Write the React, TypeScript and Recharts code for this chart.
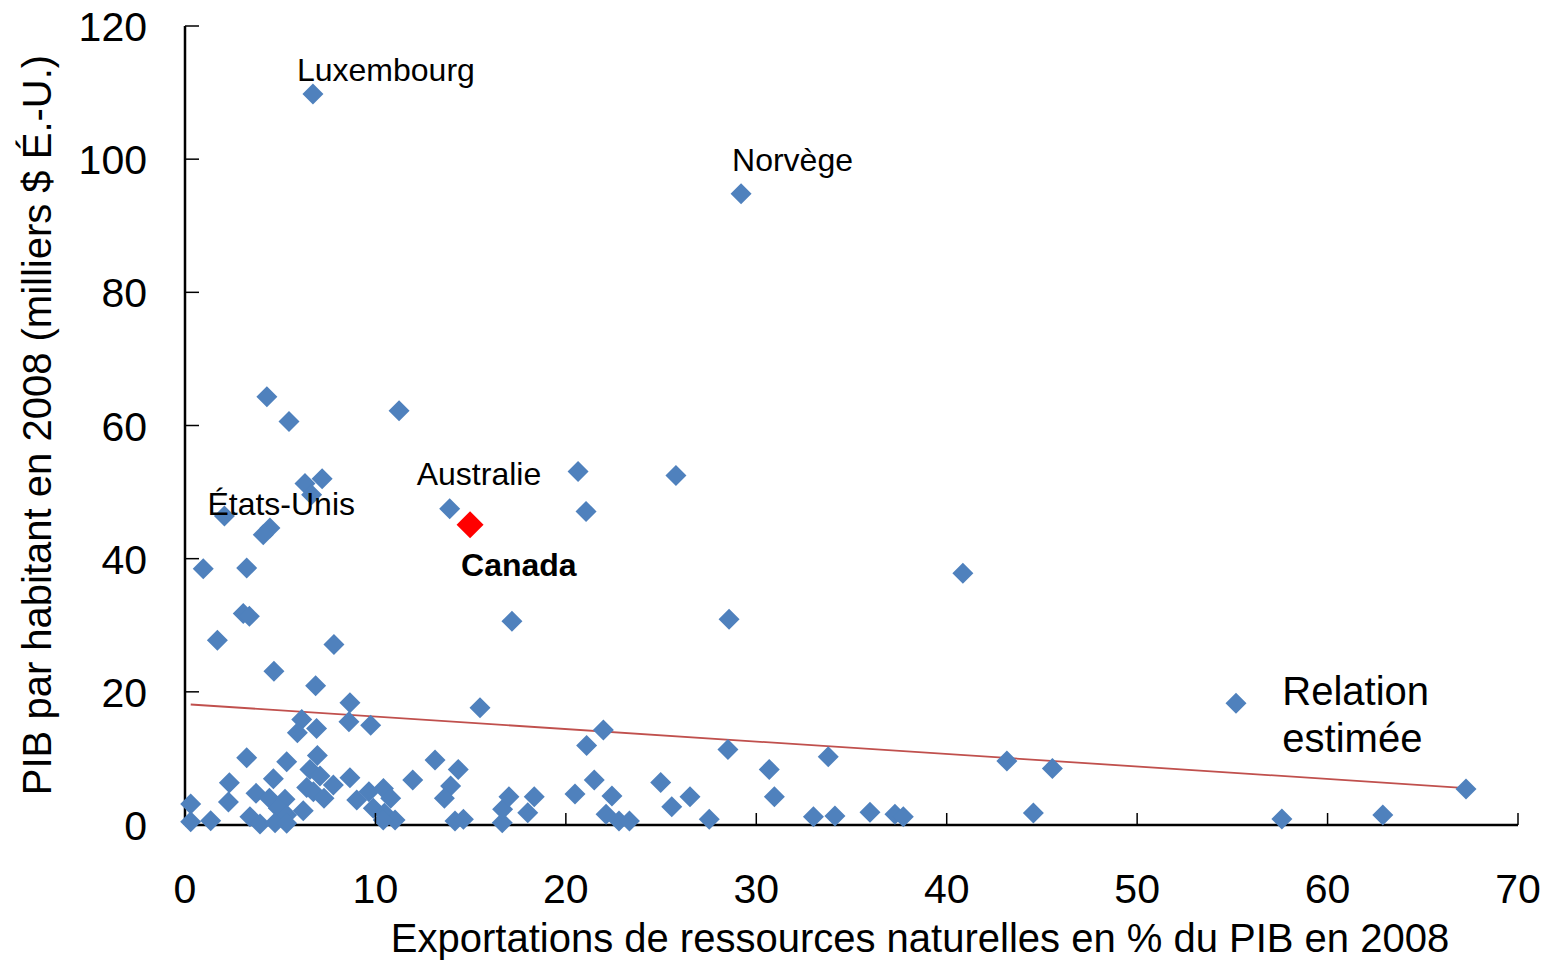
import React from 'react';
import { ScatterChart, Scatter, XAxis, YAxis, ReferenceLine, ReferenceDot, Label } from 'recharts';

// Exportations de ressources naturelles (% du PIB, 2008)
const countryX = [
  6.72, 29.2, 13.9, 2.07, 4.3, 5.46, 11.24, 6.3, 7.2, 6.65,
  4.46, 4.11, 0.96, 3.24, 3.06, 3.38, 1.7, 7.82, 4.67, 6.86,
  20.64, 25.78, 21.06, 40.85, 17.17, 28.57, 15.49, 55.19, 67.27, 62.9,
  57.6, 43.16, 45.55, 44.55, 24.98, 25.56, 26.52, 27.53, 28.51, 30.68,
  30.95, 33.0, 34.13, 33.78, 35.97, 37.28, 37.72, 11.96, 13.13, 14.35,
  13.95, 13.62, 14.18, 14.62, 16.66, 16.68, 17.01, 18.0, 18.34, 20.48,
  21.09, 21.97, 21.49, 22.42, 22.11, 22.79, 23.34, 8.66, 6.13, 6.91,
  5.9, 8.61, 9.75, 3.24, 5.34, 6.95, 6.56, 7.09, 4.64, 2.33,
  8.66, 7.79, 6.39, 6.74, 3.73, 4.43, 5.25, 7.3, 2.28, 0.3,
  4.9, 6.21, 3.41, 5.34, 3.94, 0.3, 1.35, 4.73, 5.34, 9.02,
  9.66, 10.42, 10.8, 9.89, 10.47, 11.03, 10.41,
];
// PIB par habitant 2008 (milliers $ É.-U.)
const countryY = [
  109.8, 94.8, 47.5, 46.4, 64.3, 60.6, 62.2, 51.3, 52.0, 49.6,
  44.6, 43.6, 38.5, 38.6, 31.75, 31.35, 27.75, 27.1, 23.1, 20.9,
  53.1, 52.5, 47.1, 37.8, 30.6, 30.9, 17.6, 18.3, 5.4, 1.5,
  0.9, 9.6, 8.5, 1.8, 6.4, 2.75, 4.25, 0.85, 11.35, 8.35,
  4.25, 1.25, 1.35, 10.25, 1.9, 1.6, 1.25, 6.75, 9.75, 8.35,
  5.85, 4.0, 0.6, 0.85, 0.35, 2.35, 4.25, 1.85, 4.25, 4.65,
  11.95, 14.25, 6.75, 4.35, 1.6, 0.6, 0.6, 18.35, 15.85, 14.5,
  13.85, 15.5, 15.0, 10.1, 9.5, 10.45, 8.35, 7.35, 6.95, 6.35,
  7.1, 6.0, 5.65, 5.0, 4.75, 4.0, 3.85, 4.0, 3.45, 3.15,
  2.5, 2.15, 1.25, 1.5, 0.15, 0.5, 0.65, 0.35, 0.25, 3.75,
  5.0, 5.5, 4.0, 2.5, 1.75, 0.75, 0.75,
];

const canadaX = [14.97];
const canadaY = [45.1];

// Estimated relation (end points of the fitted line)
const trendX = [0.3, 67.27];
const trendY = [18.1, 5.55];

const xTicks = [0, 10, 20, 30, 40, 50, 60, 70];
const yTicks = [0, 20, 40, 60, 80, 100, 120];

const labelNames = ['Luxembourg', 'Norvège', 'Australie', 'États-Unis'];
const labelX = [6.72, 29.2, 13.9, 2.07];
const labelY = [109.8, 94.8, 47.5, 46.4];
const labelDx = [-16, -9, -33, -17];
const labelDy = [-13, -23, -24, -1];

const trendLabelLines = ['Relation', 'estimée'];
const trendLabelX = 57.1;
const trendLabelY = 18.2;

const xTitle = 'Exportations de ressources naturelles en % du PIB en 2008';
const yTitle = 'PIB par habitant en 2008 (milliers $ É.-U.)';

const FONT = '"Liberation Sans", Arial, Helvetica, sans-serif';
const BLUE = '#4F81BD';

const points = countryX.map((x, i) => ({ x, y: countryY[i] }));
const canada = canadaX.map((x, i) => ({ x, y: canadaY[i] }));

const diamondPath = (cx: number, cy: number, r: number) =>
  `M${cx},${cy - r}L${cx + r},${cy}L${cx},${cy + r}L${cx - r},${cy}Z`;

const XTick = (props: any) => {
  const { x, y, payload } = props;
  return (
    <g>
      {payload.value !== 0 && (
        <line x1={x} y1={y} x2={x} y2={y - 12} stroke="#000" strokeWidth={1.5} />
      )}
      <text x={x} y={y + 78} textAnchor="middle" fontSize={41} fontFamily={FONT} fill="#000">
        {payload.value}
      </text>
    </g>
  );
};

const YTick = (props: any) => {
  const { x, y, payload } = props;
  return (
    <g>
      {payload.value !== 0 && (
        <line x1={x} y1={y} x2={x + 14} y2={y} stroke="#000" strokeWidth={1.5} />
      )}
      <text x={x - 38} y={y + 15} textAnchor="end" fontSize={41} fontFamily={FONT} fill="#000">
        {payload.value}
      </text>
    </g>
  );
};

export default function App() {
  return (
    <div style={{ position: 'absolute', left: 0, top: 0, background: '#fff' }}>
      <ScatterChart width={1549} height={961} margin={{ top: 26, right: 31, bottom: 56, left: 0 }}>
        <XAxis
          type="number"
          dataKey="x"
          domain={[0, 70]}
          ticks={xTicks}
          interval={0}
          height={80}
          tickSize={0}
          tickMargin={0}
          tickLine={false}
          axisLine={{ stroke: '#000', strokeWidth: 2.5 }}
          tick={(p: any) => <XTick {...p} />}
        >
          <Label
            content={() => (
              <text x={920} y={952} textAnchor="middle" fontSize={40} fontFamily={FONT} fill="#000">
                {xTitle}
              </text>
            )}
          />
        </XAxis>
        <YAxis
          type="number"
          dataKey="y"
          domain={[0, 120]}
          ticks={yTicks}
          interval={0}
          width={185}
          tickSize={0}
          tickMargin={0}
          tickLine={false}
          axisLine={{ stroke: '#000', strokeWidth: 2.5 }}
          tick={(p: any) => <YTick {...p} />}
        >
          <Label
            content={() => (
              <text
                x={51}
                y={425}
                transform="rotate(-90 51 425)"
                textAnchor="middle"
                fontSize={40}
                fontFamily={FONT}
                fill="#000"
              >
                {yTitle}
              </text>
            )}
          />
        </YAxis>
        <Scatter
          data={points}
          isAnimationActive={false}
          shape={(p: any) => <path d={diamondPath(p.cx, p.cy, 10.5)} fill={BLUE} />}
        />
        <Scatter
          data={canada}
          isAnimationActive={false}
          shape={(p: any) => <path d={diamondPath(p.cx, p.cy, 13.5)} fill="#FF0000" />}
        />
        <ReferenceLine
          segment={[
            { x: trendX[0], y: trendY[0] },
            { x: trendX[1], y: trendY[1] },
          ]}
          stroke="#C0504D"
          strokeWidth={1.8}
        />
        {labelNames.map((name, i) => (
          <ReferenceDot
            key={name}
            x={labelX[i]}
            y={labelY[i]}
            r={0}
            fill="none"
            stroke="none"
            label={{
              content: (lp: any) => {
                const vb = lp.viewBox || {};
                return (
                  <text
                    x={vb.x + labelDx[i]}
                    y={vb.y + labelDy[i]}
                    fontSize={32}
                    fontFamily={FONT}
                    fill="#000"
                  >
                    {name}
                  </text>
                );
              },
            }}
          />
        ))}
        <ReferenceDot
          x={canadaX[0]}
          y={canadaY[0]}
          r={0}
          fill="none"
          stroke="none"
          label={{
            content: (lp: any) => {
              const vb = lp.viewBox || {};
              return (
                <text x={vb.x - 9} y={vb.y + 51} fontSize={32} fontWeight="bold" fontFamily={FONT} fill="#000">
                  Canada
                </text>
              );
            },
          }}
        />
        <ReferenceDot
          x={trendLabelX}
          y={trendLabelY}
          r={0}
          fill="none"
          stroke="none"
          label={{
            content: (lp: any) => {
              const vb = lp.viewBox || {};
              return (
                <text fontSize={40} fontFamily={FONT} fill="#000">
                  {trendLabelLines.map((t, k) => (
                    <tspan key={t} x={vb.x + 10} y={vb.y + 1 + k * 47}>
                      {t}
                    </tspan>
                  ))}
                </text>
              );
            },
          }}
        />
      </ScatterChart>
    </div>
  );
}
